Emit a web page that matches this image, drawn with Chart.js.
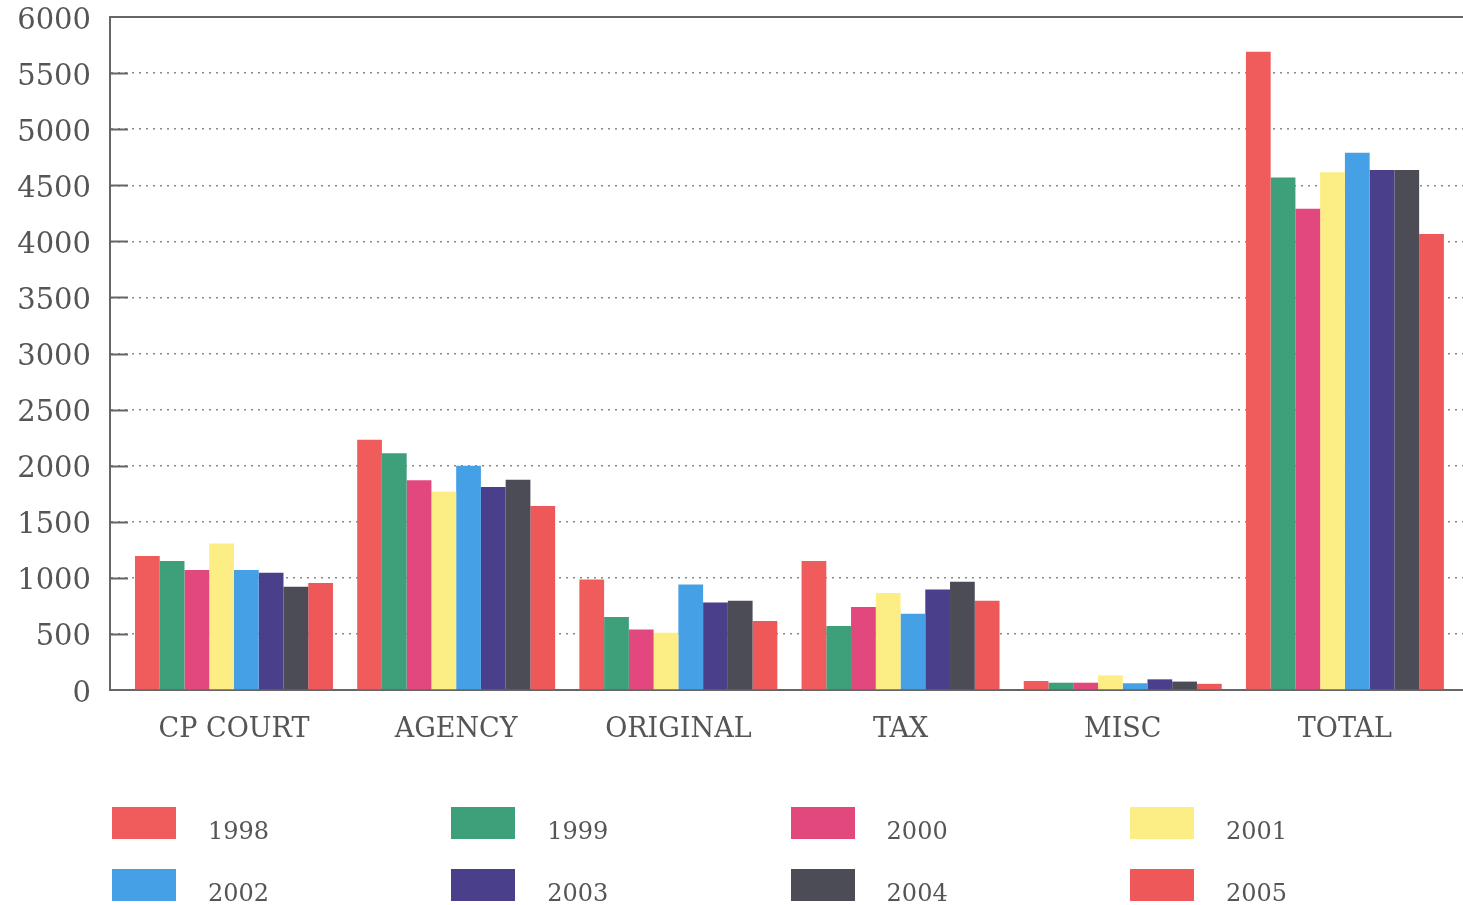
<!DOCTYPE html>
<html>
<head>
<meta charset="utf-8">
<script src="https://cdn.jsdelivr.net/npm/chart.js@4"></script>
<style>
  html, body { margin: 0; padding: 0; background: #fff; overflow: hidden; }
  #wrap { position: relative; width: 1463px; height: 905px; overflow: hidden; }
  #mainChart { position: absolute; left: 0; top: 0; }
  .lg-item { position: absolute; font-family: 'DejaVu Serif', serif; font-size: 24px; color: #555; }
  .lg-box { position: absolute; left: 0; top: 0; width: 64px; height: 32px; }
  .lg-text { position: absolute; left: 96px; top: 8px; line-height: 32px; white-space: nowrap; }
</style>
</head>
<body>
<div id="wrap">
  <canvas id="mainChart" width="1480" height="905"></canvas>
  <div id="legend"></div>
</div>
<script>
const categories = ['CP COURT', 'AGENCY', 'ORIGINAL', 'TAX', 'MISC', 'TOTAL'];
const years = ['1998', '1999', '2000', '2001', '2002', '2003', '2004', '2005'];

const v1998 = [1195, 2230, 985, 1150, 80, 5690];
const v1999 = [1150, 2110, 650, 570, 65, 4570];
const v2000 = [1070, 1870, 540, 740, 65, 4290];
const v2001 = [1305, 1770, 510, 865, 130, 4615];
const v2002 = [1070, 2000, 940, 680, 60, 4790];
const v2003 = [1045, 1810, 780, 895, 95, 4635];
const v2004 = [920, 1875, 795, 965, 75, 4635];
const v2005 = [955, 1640, 615, 795, 55, 4065];

const colors = ['#f05c5c', '#3e9f7b', '#e2487d', '#fcee84', '#46a0e6', '#4a3f8b', '#4c4c57', '#ee5858'];
const series = [v1998, v1999, v2000, v2001, v2002, v2003, v2004, v2005];

document.addEventListener('DOMContentLoaded', function () {
  const ctx = document.getElementById('mainChart');
  const axisColor = '#666';
  const serif = "'DejaVu Serif', serif";

  // solid top frame + short solid ticks inside the left axis
  const frame = {
    id: 'frame',
    beforeDatasetsDraw(chart) {
      const { ctx: c, chartArea: a, scales } = chart;
      c.save();
      c.strokeStyle = axisColor;
      c.lineWidth = 2;
      c.beginPath();
      c.moveTo(a.left, a.top);
      c.lineTo(a.right, a.top);
      scales.y.ticks.forEach((t) => {
        if (t.value === 0 || t.value === 6000) return;
        const y = Math.round(scales.y.getPixelForValue(t.value)) + 0.5;
        c.moveTo(a.left, y);
        c.lineTo(a.left + 18, y);
      });
      c.stroke();
      c.restore();
    },
  };

  const chart = new Chart(ctx, {
    type: 'bar',
    data: {
      labels: categories,
      datasets: years.map((y, i) => ({
        label: y,
        data: series[i],
        backgroundColor: colors[i],
        borderWidth: 0,
        categoryPercentage: 0.891,
        barPercentage: 1.0,
      })),
    },
    options: {
      responsive: false,
      animation: false,
      devicePixelRatio: 1,
      layout: { padding: { left: 0, top: 17, right: 8, bottom: 155 } },
      plugins: { legend: { display: false }, tooltip: { enabled: false } },
      scales: {
        x: {
          grid: { display: false },
          border: { display: true, color: axisColor, width: 2 },
          ticks: { color: '#555', padding: 16, font: { family: serif, size: 27 } },
          afterFit: (s) => { s.height = 60; s.paddingLeft = 0; s.paddingRight = 0; },
          afterBuildTicks: (s) => { s._startValue = -0.558; s._valueRange = 6.13; },
        },
        y: {
          min: 0,
          max: 6000,
          ticks: {
            stepSize: 500, color: '#555', padding: 19, labelOffset: 4,
            font: { family: serif, size: 29 },
            callback: (v) => String(v),
          },
          grid: { color: '#888', lineWidth: 1.5, drawTicks: false },
          border: { display: true, color: axisColor, width: 2, dash: [2, 5] },
          afterFit: (s) => { s.width = 110; s.paddingTop = 0; s.paddingBottom = 0; },
        },
      },
    },
    plugins: [frame],
  });

  const legend = document.getElementById('legend');
  legend.innerHTML = chart.data.datasets.map((d, i) => {
    const left = 112 + (i % 4) * 339.3;
    const top = 807 + Math.floor(i / 4) * 62;
    return `<div class="lg-item" style="left:${left}px;top:${top}px">
      <div class="lg-box" style="background:${d.backgroundColor}"></div>
      <div class="lg-text">${d.label}</div></div>`;
  }).join('');
});
</script>
</body>
</html>
